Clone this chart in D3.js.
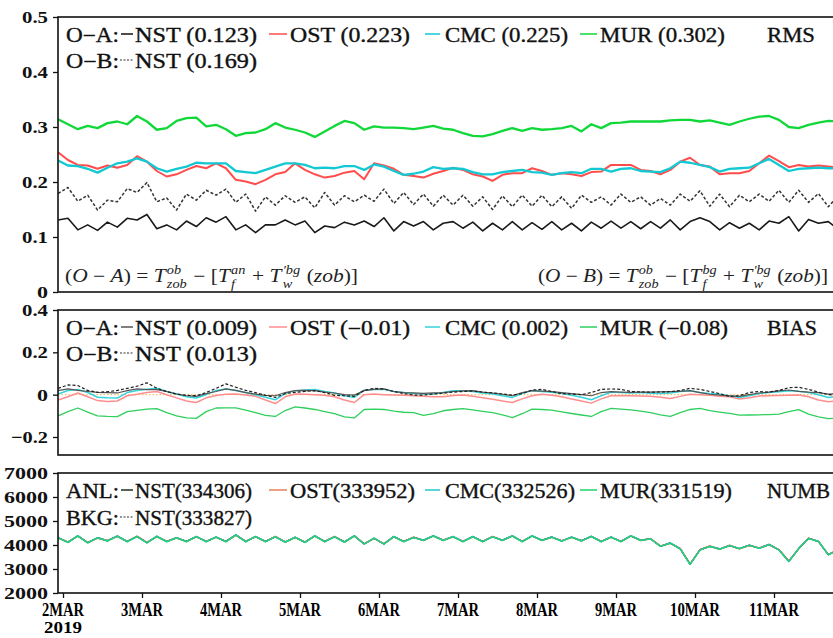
<!DOCTYPE html>
<html><head><meta charset="utf-8">
<script src="https://cdn.jsdelivr.net/npm/d3@7"></script>
<style>body{margin:0;background:#fff}svg{display:block}text{font-family:"Liberation Serif","Times New Roman",serif;white-space:pre}</style>
</head><body><svg id="c" width="833" height="638"></svg>
<script>
// ---------- DATA (3-hourly, starting 1MAR 22:30) ----------
const dayTicks = [0,24,48,72,96,120,144,168,192,216];
const dayLabels = ["2MAR","3MAR","4MAR","5MAR","6MAR","7MAR","8MAR","9MAR","10MAR","11MAR"];
const yearLabel = "2019";

const rmsNST = [0.131,0.134,0.113,0.122,0.112,0.127,0.118,0.134,0.131,0.141,0.115,0.122,0.113,0.129,0.119,0.135,0.127,0.137,0.113,0.122,0.108,0.122,0.122,0.131,0.122,0.129,0.108,0.120,0.117,0.127,0.122,0.129,0.119,0.135,0.111,0.128,0.120,0.128,0.113,0.125,
0.128,0.116,0.127,0.111,0.125,0.113,0.128,0.113,0.126,0.114,0.128,0.113,0.125,0.111,0.127,0.116,0.129,0.116,0.128,0.115,0.128,0.116,0.131,0.113,0.128,0.135,0.128,0.113,0.126,0.116,0.125,0.113,0.129,0.125,0.137,0.111,0.132,0.125,0.128,0.114];
const rmsNSTbg = [0.179,0.190,0.165,0.176,0.149,0.167,0.164,0.188,0.181,0.199,0.164,0.171,0.149,0.178,0.167,0.185,0.176,0.187,0.163,0.178,0.147,0.173,0.158,0.175,0.163,0.173,0.153,0.181,0.158,0.175,0.164,0.176,0.165,0.187,0.161,0.181,0.159,0.178,0.156,0.176,
0.158,0.176,0.156,0.173,0.150,0.175,0.155,0.176,0.156,0.176,0.155,0.173,0.152,0.176,0.163,0.173,0.158,0.178,0.163,0.173,0.158,0.170,0.158,0.178,0.165,0.184,0.156,0.178,0.155,0.176,0.164,0.178,0.165,0.185,0.163,0.185,0.163,0.179,0.155,0.175];
const rmsOST = [0.254,0.240,0.231,0.230,0.224,0.230,0.226,0.231,0.247,0.237,0.220,0.210,0.214,0.222,0.229,0.225,0.234,0.225,0.204,0.201,0.196,0.204,0.214,0.218,0.234,0.222,0.214,0.208,0.211,0.217,0.220,0.205,0.234,0.230,0.224,0.213,0.211,0.208,0.215,0.220,
0.226,0.222,0.214,0.210,0.202,0.213,0.216,0.216,0.225,0.220,0.213,0.216,0.214,0.211,0.218,0.219,0.231,0.231,0.231,0.222,0.220,0.214,0.222,0.237,0.244,0.231,0.228,0.214,0.216,0.216,0.220,0.234,0.248,0.238,0.227,0.231,0.228,0.230,0.228,0.226];
const rmsCMC = [0.239,0.230,0.229,0.224,0.217,0.226,0.234,0.237,0.243,0.237,0.225,0.219,0.224,0.228,0.235,0.234,0.234,0.234,0.220,0.218,0.216,0.222,0.228,0.234,0.234,0.231,0.225,0.226,0.225,0.229,0.229,0.222,0.232,0.228,0.220,0.213,0.215,0.219,0.227,0.224,
0.225,0.224,0.218,0.214,0.214,0.218,0.220,0.222,0.218,0.217,0.213,0.216,0.218,0.216,0.224,0.224,0.219,0.224,0.225,0.220,0.219,0.218,0.225,0.237,0.235,0.231,0.227,0.219,0.224,0.225,0.226,0.234,0.242,0.231,0.220,0.224,0.225,0.226,0.225,0.225];
const rmsMUR = [0.314,0.305,0.296,0.302,0.298,0.307,0.310,0.305,0.320,0.310,0.295,0.298,0.311,0.316,0.317,0.301,0.304,0.296,0.284,0.289,0.290,0.296,0.307,0.299,0.295,0.290,0.282,0.292,0.302,0.311,0.307,0.295,0.301,0.299,0.299,0.298,0.296,0.299,0.302,0.297,
0.295,0.289,0.284,0.283,0.287,0.293,0.298,0.293,0.298,0.295,0.296,0.298,0.302,0.292,0.305,0.298,0.307,0.308,0.310,0.310,0.310,0.310,0.312,0.313,0.313,0.310,0.312,0.308,0.304,0.310,0.315,0.319,0.320,0.313,0.300,0.298,0.304,0.308,0.311,0.310];

const biasNST = [0.019,0.027,0.020,0.015,0.011,0.010,0.008,0.019,0.027,0.024,0.024,0.015,0.003,-0.005,-0.008,0.005,0.015,0.027,0.020,0.010,0.003,-0.003,-0.005,0.010,0.019,0.020,0.019,0.012,0.008,0.000,-0.002,0.019,0.025,0.027,0.015,0.010,0.008,0.006,0.008,0.010,
0.015,0.018,0.019,0.012,0.008,0.002,-0.005,0.010,0.019,0.017,0.014,0.010,0.005,0.000,-0.005,0.010,0.014,0.012,0.011,0.012,0.012,0.013,0.014,0.016,0.019,0.010,0.002,-0.002,-0.006,-0.008,0.000,0.008,0.012,0.018,0.022,0.016,0.012,0.010,0.003,0.005];
const biasNSTbg = [0.030,0.046,0.043,0.020,0.011,0.014,0.020,0.030,0.040,0.056,0.030,0.015,0.003,-0.003,-0.005,0.010,0.030,0.051,0.035,0.020,0.010,-0.003,-0.013,0.005,0.011,0.015,0.019,0.010,-0.003,-0.005,-0.008,0.020,0.030,0.027,0.015,0.005,-0.002,-0.002,0.003,0.007,
0.012,0.015,0.017,0.012,0.008,0.003,-0.002,0.005,0.022,0.025,0.015,0.005,0.003,0.000,0.010,0.025,0.027,0.025,0.015,0.013,0.012,0.013,0.014,0.020,0.030,0.025,0.015,0.005,-0.008,-0.005,0.010,0.015,0.012,0.020,0.033,0.035,0.025,0.012,0.000,-0.002];
const biasOST = [-0.025,-0.010,0.008,-0.010,-0.028,-0.032,-0.030,-0.005,0.002,0.010,0.015,0.000,-0.015,-0.030,-0.037,-0.015,-0.004,0.002,0.003,-0.002,-0.008,-0.025,-0.042,-0.010,0.003,0.002,0.000,-0.003,-0.010,-0.025,-0.037,0.000,0.003,0.000,-0.002,-0.003,-0.005,-0.008,-0.010,-0.010,
-0.004,-0.002,-0.008,-0.015,-0.022,-0.030,-0.037,-0.020,-0.005,0.002,-0.003,-0.010,-0.020,-0.030,-0.040,-0.020,-0.005,-0.005,-0.005,-0.006,-0.008,-0.012,-0.018,-0.008,0.002,0.000,-0.003,-0.008,-0.010,-0.020,-0.015,-0.006,-0.005,-0.004,-0.003,-0.002,-0.010,-0.025,-0.033,-0.030];
const biasCMC = [0.003,0.020,0.024,0.010,-0.012,-0.015,-0.016,0.010,0.020,0.026,0.030,0.015,0.003,-0.010,-0.016,0.000,0.020,0.027,0.020,0.010,0.000,-0.012,-0.024,0.005,0.019,0.022,0.024,0.015,0.008,-0.005,-0.013,0.022,0.025,0.025,0.015,0.010,0.005,0.003,0.003,0.010,
0.018,0.019,0.015,0.008,0.003,-0.005,-0.013,0.005,0.019,0.015,0.011,0.005,-0.003,-0.012,-0.024,-0.005,0.012,0.010,0.008,0.010,0.007,0.005,0.008,0.015,0.019,0.010,0.005,0.002,-0.005,-0.013,-0.005,0.005,0.010,0.014,0.019,0.016,0.010,0.000,-0.013,-0.010];
const biasMUR = [-0.100,-0.080,-0.063,-0.082,-0.100,-0.103,-0.104,-0.080,-0.074,-0.068,-0.066,-0.085,-0.100,-0.110,-0.112,-0.080,-0.063,-0.062,-0.062,-0.073,-0.085,-0.098,-0.103,-0.075,-0.058,-0.063,-0.070,-0.080,-0.090,-0.105,-0.110,-0.070,-0.068,-0.070,-0.078,-0.083,-0.085,-0.098,-0.090,-0.076,
-0.070,-0.066,-0.072,-0.079,-0.085,-0.095,-0.108,-0.090,-0.068,-0.070,-0.073,-0.081,-0.089,-0.096,-0.103,-0.080,-0.065,-0.068,-0.072,-0.078,-0.085,-0.095,-0.103,-0.085,-0.070,-0.065,-0.075,-0.082,-0.088,-0.097,-0.096,-0.095,-0.094,-0.092,-0.080,-0.071,-0.092,-0.105,-0.113,-0.110];

const numbNST = [4300,4120,4380,4100,4300,4180,4370,4150,4360,4100,4360,4150,4300,4150,4350,4150,4330,4150,4420,4150,4350,4150,4350,4130,4320,4120,4380,4150,4350,4130,4380,4050,4280,4050,4350,4150,4320,4200,4380,4200,
4350,4150,4350,4150,4350,4200,4380,4150,4380,4200,4330,4170,4330,4180,4360,4150,4330,4150,4380,4200,4260,3950,4080,3850,3200,3800,3950,3830,3980,3850,3990,3870,4020,3800,3320,3850,4280,4150,3600,3800];
const numbNSTbg = [4300,4110,4380,4100,4300,4170,4370,4150,4360,4100,4360,4140,4300,4150,4350,4140,4330,4150,4420,4140,4350,4150,4350,4120,4320,4120,4380,4140,4350,4130,4380,4050,4280,4040,4350,4150,4320,4190,4380,4200,
4350,4140,4350,4150,4350,4190,4380,4150,4370,4200,4330,4170,4320,4180,4360,4140,4330,4150,4380,4190,4260,3950,4080,3840,3200,3800,3950,3830,3970,3850,3990,3870,4020,3800,3320,3850,4280,4140,3600,3800];
const numbOST = [4290,4130,4370,4110,4280,4190,4360,4140,4370,4110,4350,4160,4290,4140,4340,4160,4320,4140,4400,4160,4340,4140,4360,4120,4310,4130,4370,4140,4360,4120,4370,4060,4270,4060,4340,4140,4330,4190,4370,4210,
4340,4160,4340,4140,4360,4190,4370,4160,4370,4190,4320,4180,4320,4170,4350,4160,4320,4160,4370,4190,4270,3960,4070,3860,3210,3810,3960,3820,3990,3840,3980,3880,4010,3810,3330,3840,4290,4140,3610,3790];
const numbCMC = [4310,4110,4390,4090,4310,4170,4380,4140,4350,4090,4370,4140,4310,4140,4360,4140,4340,4140,4430,4140,4360,4140,4340,4120,4330,4110,4390,4140,4340,4120,4390,4040,4290,4040,4360,4140,4310,4200,4390,4190,
4360,4140,4360,4140,4340,4200,4390,4140,4390,4190,4340,4160,4340,4170,4370,4140,4340,4140,4390,4200,4250,3940,4090,3840,3190,3790,3940,3840,3970,3860,4000,3860,4030,3790,3310,3860,4270,4160,3590,3810];
const numbMUR = [4300,4100,4370,4080,4300,4160,4360,4130,4350,4080,4350,4130,4300,4130,4350,4130,4330,4130,4410,4130,4350,4130,4340,4110,4320,4100,4370,4130,4340,4110,4370,4030,4280,4030,4340,4130,4310,4180,4370,4180,
4340,4130,4340,4130,4340,4180,4370,4130,4370,4180,4320,4150,4320,4160,4350,4130,4320,4130,4370,4180,4260,3940,4070,3840,3190,3790,3940,3820,3970,3840,3980,3860,4010,3790,3310,3840,4270,4140,3590,3790];

const rmsLegend  = ["NST (0.123)","OST (0.223)","CMC (0.225)","MUR (0.302)"];
const rmsLegend2 = "NST (0.169)";
const biasLegend = ["NST (0.009)","OST (\u22120.01)","CMC (0.002)","MUR (\u22120.08)"];
const biasLegend2 = "NST (0.013)";
const numbLegend = ["NST(334306)","OST(333952)","CMC(332526)","MUR(331519)"];
const numbLegend2 = "NST(333827)";
const rmsTicks = [0,0.1,0.2,0.3,0.4,0.5];
const rmsTickLabels = ["0","0.1","0.2","0.3","0.4","0.5"];
const biasTicks = [-0.2,0,0.2,0.4];
const biasTickLabels = ["\u22120.2","0","0.2","0.4"];
const numbTicks = [2000,3000,4000,5000,6000,7000];
const numbTickLabels = ["2000","3000","4000","5000","6000","7000"];

// ---------- DRAWING ----------
const svg = d3.select("#c");
const X0 = 58, X1 = 864;
const x = d3.scaleLinear().domain([0,216]).range([63,774]);
const hours = rmsNST.map((d,i)=> -1.5 + 3*i);

const panels = {
  rms:  {top:17, bot:292, y:d3.scaleLinear().domain([0,0.5]).range([292,17]), ticks:rmsTicks, labels:rmsTickLabels},
  bias: {top:310, bot:455, y:d3.scaleLinear().domain([-0.2,0.4]).range([437,310]), ticks:biasTicks, labels:biasTickLabels},
  numb: {top:473, bot:593, y:d3.scaleLinear().domain([2000,7000]).range([593,473]), ticks:numbTicks, labels:numbTickLabels}
};

const defs = svg.append("defs");
Object.entries(panels).forEach(([k,p])=>{
  defs.append("clipPath").attr("id","clip-"+k).append("rect")
    .attr("x",X0).attr("y",p.top).attr("width",X1-X0).attr("height",p.bot-p.top);
});

function drawSeries(k, vals, color, width, dash, opacity){
  const p = panels[k];
  const line = d3.line().x((d,i)=>x(hours[i])).y(d=>p.y(d));
  svg.append("path").attr("clip-path",`url(#clip-${k})`)
    .attr("d", line(vals)).attr("fill","none").attr("stroke",color)
    .attr("stroke-width",width).attr("stroke-dasharray",dash||null)
    .attr("stroke-opacity",opacity||1).attr("stroke-linejoin","round");
}

// RMS
drawSeries("rms", rmsNST, "#1a1a1a", 1.6);
drawSeries("rms", rmsNSTbg, "#333", 1.5, "3,2");
drawSeries("rms", rmsMUR, "#10d838", 2.3);
drawSeries("rms", rmsOST, "#ff4d4d", 2.0);
drawSeries("rms", rmsCMC, "#12c8d2", 2.3);

// BIAS
svg.append("line").attr("x1",X0).attr("x2",X1)
  .attr("y1",panels.bias.y(0)).attr("y2",panels.bias.y(0))
  .attr("stroke","#f2b24a").attr("stroke-width",1).attr("stroke-dasharray","1.5,2");
drawSeries("bias", biasMUR, "#2fcf5e", 1.3);
drawSeries("bias", biasOST, "#ff8d8d", 1.5);
drawSeries("bias", biasCMC, "#35d3dc", 1.5);
drawSeries("bias", biasNST, "#555", 1.2);
drawSeries("bias", biasNSTbg, "#222", 1.2, "3,2");

// NUMB
drawSeries("numb", numbNST, "#1f2f1f", 1.5);
drawSeries("numb", numbNSTbg, "#333", 1.2, "3,2");
drawSeries("numb", numbOST, "#e9805a", 1.4);
drawSeries("numb", numbCMC, "#22c9cc", 1.3);
drawSeries("numb", numbMUR, "#1ed46a", 1.3, null, 0.8);

// frames & y axes
const labelLen = s => s.replace(/[.]/g,"").length*11 + (s.includes(".")?4:0);
Object.entries(panels).forEach(([k,p])=>{
  svg.append("rect").attr("x",X0).attr("y",p.top).attr("width",X1-X0).attr("height",p.bot-p.top)
    .attr("fill","none").attr("stroke","#111").attr("stroke-width",1.6);
  const ax = svg.append("g").attr("transform",`translate(${X0},0)`)
    .call(d3.axisLeft(p.y).tickValues(p.ticks).tickSize(5).tickPadding(5).tickFormat((d,i)=>p.labels[i]));
  ax.select(".domain").remove();
  ax.selectAll(".tick line").attr("stroke","#111").attr("stroke-width",1.3);
  ax.selectAll(".tick text").attr("fill","#111")
    .style("font-family","'Liberation Serif',serif").style("font-weight","bold").style("font-size","17px")
    .attr("textLength",(d,i)=> labelLen(p.labels[i]))
    .attr("lengthAdjust","spacingAndGlyphs");
});

// x axis
const xa = svg.append("g").attr("transform",`translate(0,${panels.numb.bot})`)
  .call(d3.axisBottom(x).tickValues(dayTicks).tickSize(5).tickFormat(""));
xa.select(".domain").remove();
xa.selectAll(".tick line").attr("stroke","#111").attr("stroke-width",1.3);
dayTicks.forEach((t,i)=>{
  const tx = svg.append("text").attr("text-anchor","middle").style("font-weight","bold");
  tx.append("tspan").attr("x",x(t)).attr("y",616).style("font-size","18px")
    .attr("textLength", dayLabels[i].length===5 ? 50 : 42).attr("lengthAdjust","spacingAndGlyphs")
    .text(dayLabels[i]);
  if(i===0){
    tx.append("tspan").attr("x",x(t)).attr("y",633).style("font-size","16px")
      .attr("textLength",38).attr("lengthAdjust","spacingAndGlyphs").text(yearLabel);
  }
});

// legends
function txt(xp, yp, s, len){
  const t = svg.append("text").attr("x",xp).attr("y",yp).text(s)
    .style("font-size","20px").attr("fill","#111").attr("stroke","#111").attr("stroke-width",0.35);
  if(len) t.attr("textLength",len).attr("lengthAdjust","spacingAndGlyphs");
  return t;
}
function sample(x1,x2,yp,color,dash,w){
  svg.append("line").attr("x1",x1).attr("x2",x2).attr("y1",yp).attr("y2",yp)
    .attr("stroke",color).attr("stroke-width",w||1.5).attr("stroke-dasharray",dash||null);
}
function legend(b1, b2, head1, head2, labels, label2, title, colors, widths, titleLen){
  const sx = [[121,133],[269,287],[425,440],[580,597]];
  const tx = [135,290,445,600];
  txt(66,b1,head1,53);
  labels.forEach((s,i)=>{
    sample(sx[i][0],sx[i][1],b1-8,colors[i],null,1.5);
    txt(tx[i],b1,s,widths[i]);
  });
  txt(767,b1,title,titleLen);
  txt(66,b2,head2,53);
  sample(120,133,b2-8,"#333","2,1.5",1.2);
  txt(135,b2,label2,widths[0]);
}
legend(42,68,"O\u2212A:","O\u2212B:",rmsLegend,rmsLegend2,"RMS",["#111","#ff4d4d","#12c8d2","#10d838"],[122,120,123,125],48);
legend(335,361,"O\u2212A:","O\u2212B:",biasLegend,biasLegend2,"BIAS",["#555","#ff8d8d","#35d3dc","#2fcf5e"],[122,120,123,128],50);
legend(498,525,"ANL:","BKG:",numbLegend,numbLegend2,"NUMB",["#1f2f1f","#e9805a","#22c9cc","#1ed46a"],[117,125,130,132],63);

// formulas
function formula(x0, y0, targetW, parts){
  const g = svg.append("g");
  let cx = 0;
  parts.forEach(p=>{
    if(p.t !== undefined){
      const t = g.append("text").attr("x",cx).attr("y",0).text(p.t)
        .style("font-size","18px").style("font-style",p.i?"italic":"normal").attr("fill","#222");
      cx += t.node().getComputedTextLength();
    } else {
      const a = g.append("text").attr("x",cx+1).attr("y",-8).text(p.sup)
        .style("font-size","12px").style("font-style","italic").attr("fill","#222");
      const b = g.append("text").attr("x",cx+1).attr("y",6).text(p.sub)
        .style("font-size","12px").style("font-style","italic").attr("fill","#222");
      cx += Math.max(a.node().getComputedTextLength(), b.node().getComputedTextLength()) + 2;
    }
  });
  g.attr("transform",`translate(${x0},${y0}) scale(${targetW/cx},1)`);
}
formula(65, 282, 293, [
  {t:"("},{t:"O",i:1},{t:" \u2212 "},{t:"A",i:1},{t:") = "},{t:"T",i:1},{sup:"ob",sub:"zob"},
  {t:" \u2212 ["},{t:"T",i:1},{sup:"an",sub:"f"},{t:" + "},{t:"T",i:1},{sup:"\u2032bg",sub:"w"},
  {t:" ("},{t:"zob",i:1},{t:")]"}
]);
formula(538, 282, 290, [
  {t:"("},{t:"O",i:1},{t:" \u2212 "},{t:"B",i:1},{t:") = "},{t:"T",i:1},{sup:"ob",sub:"zob"},
  {t:" \u2212 ["},{t:"T",i:1},{sup:"bg",sub:"f"},{t:" + "},{t:"T",i:1},{sup:"\u2032bg",sub:"w"},
  {t:" ("},{t:"zob",i:1},{t:")]"}
]);
</script></body></html>
